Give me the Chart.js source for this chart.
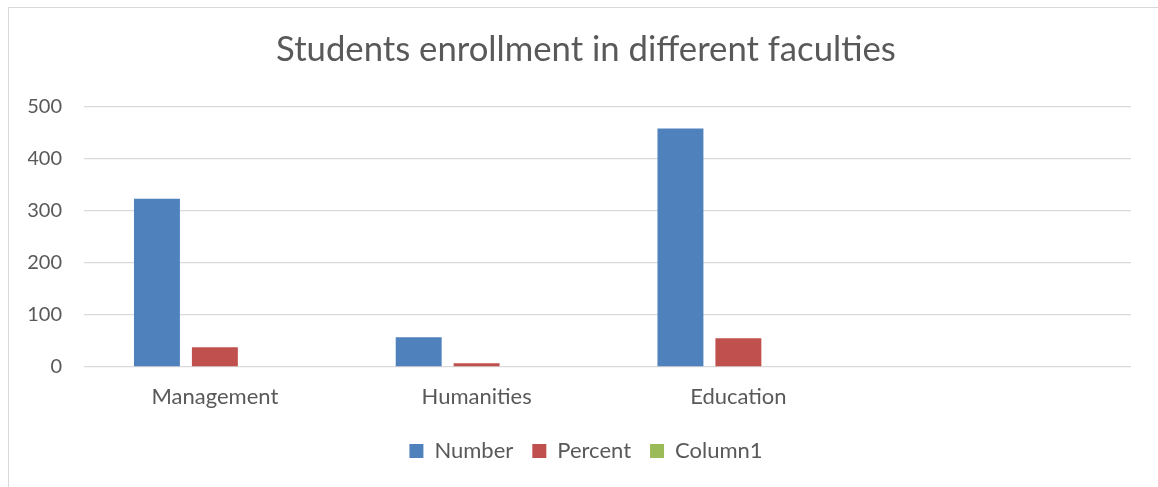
<!DOCTYPE html>
<html>
<head>
<meta charset="utf-8">
<script src="https://cdn.jsdelivr.net/npm/chart.js@4.4.0/dist/chart.umd.min.js"></script>
<style>
  html, body { margin: 0; padding: 0; background: #fff; }
  #frame { position: absolute; left: 8px; top: 7px; width: 1160px; height: 490px; border: 1px solid #d9d9d9; box-sizing: border-box; }
  #wrap { position: absolute; left: 0; top: 0; width: 1158px; height: 487px; }
</style>
</head>
<body>
<div id="frame"></div>
<div id="wrap"><canvas id="c" width="1158" height="487"></canvas></div>
<script>
const categories = ["Management", "Humanities", "Education", ""];
const numberValues = [323, 57, 458, null];
const percentValues = [38, 7, 55, null];
const column1Values = [null, null, null, null];
const yTicks = [0, 100, 200, 300, 400, 500];

const FONT = "Lato, 'Open Sans', sans-serif";
const TXT = "#595959";

new Chart(document.getElementById('c'), {
  type: 'bar',
  data: {
    labels: categories,
    datasets: [
      { label: 'Number', data: numberValues, backgroundColor: '#4F81BD' },
      { label: 'Percent', data: percentValues, backgroundColor: '#C0504D' },
      { label: 'Column1', data: column1Values, backgroundColor: '#9BBB59' }
    ]
  },
  options: {
    responsive: false,
    animation: false,
    devicePixelRatio: 1,
    categoryPercentage: 0.664,
    barPercentage: 0.793,
    layout: { padding: { left: 28, right: 14, top: 8, bottom: 15 } },
    plugins: {
      title: {
        display: true,
        text: 'Students enrollment in different faculties',
        color: TXT,
        font: { family: FONT, size: 34.7, weight: 'normal' },
        padding: { top: 21, bottom: 36 }
      },
      legend: {
        position: 'bottom',
        labels: {
          color: TXT,
          font: { family: FONT, size: 22 },
          boxWidth: 14,
          boxHeight: 14,
          padding: 19
        }
      },
      tooltip: { enabled: false }
    },
    scales: {
      x: {
        grid: { display: false },
        border: { display: false },
        ticks: { color: TXT, font: { family: FONT, size: 22 }, padding: 9, maxRotation: 0 },
        afterFit: (s) => { s.height = 54; }
      },
      y: {
        min: 0, max: 500,
        afterBuildTicks: (s) => { s.ticks = yTicks.map(v => ({ value: v })); },
        grid: { color: '#d9d9d9', lineWidth: 1.3, drawTicks: false },
        border: { display: false },
        ticks: { color: TXT, font: { family: FONT, size: 20 }, padding: 22 },
        afterFit: (s) => { s.width = 56; }
      },
      yRightSpacer: {
        type: 'linear',
        position: 'right',
        min: 0, max: 500,
        grid: { display: false, drawTicks: false },
        border: { display: false },
        ticks: { display: false },
        afterFit: (s) => { s.width = 13; }
      }
    }
  }
});
</script>
</body>
</html>
